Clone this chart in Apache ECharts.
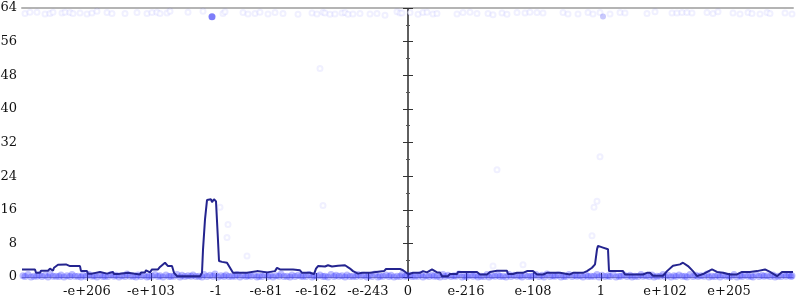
<!DOCTYPE html>
<html><head><meta charset="utf-8">
<script src="https://cdn.jsdelivr.net/npm/echarts@6/dist/echarts.min.js"></script>
<style>html,body{margin:0;padding:0;background:#fff}#c{width:800px;height:300px}</style>
</head><body><div id="c"></div>
<script>
// x positions are offsets along an ordered axis: negative panel on the left, positive on the right
const leftTickPos = [-321, -257, -192, -142, -92, -40, 0];
const leftTickLabels = ['-e+206', '-e+103', '-1', '-e-81', '-e-162', '-e-243', '0'];
const rightTickPos = [58, 125, 193, 257, 321];
const rightTickLabels = ['e-216', 'e-108', '1', 'e+102', 'e+205'];

const leftLineX = [-386,-373,-372,-368,-367,-360,-358,-355,-354,-350,-342,-340,-338,-328,-327,-321,-320,-316,-315,-308,-307,-301,-300,-295,-294,-290,-289,-280,-279,-268,-267,-263,-262,-258,-256,-250,-248,-243,-240,-236,-234,-231,-208,-206,-205,-203,-201,-199,-197,-196,-194,-192,-190,-189,-186,-181,-178,-175,-161,-160,-151,-150,-141,-140,-133,-131,-128,-123,-121,-115,-108,-106,-98,-97,-94,-92,-90,-83,-80,-76,-70,-63,-58,-55,-50,-46,-38,-36,-24,-22,-8,-5,0];
const leftLineY = [1.8,1.8,1.0,1.0,1.5,1.5,2.0,1.5,2.2,2.9,3.0,3.4,2.6,2.6,1.4,1.4,0.8,0.8,1.2,1.2,0.8,0.8,1.2,1.2,0.7,0.7,1.0,1.0,0.6,0.6,1.1,1.1,1.6,1.1,1.8,1.8,2.4,3.4,2.6,2.6,1.0,0.2,0.2,1.0,6.5,13.7,18.3,18.0,18.5,17.8,18.5,18.0,8.7,3.8,3.6,3.4,2.2,1.0,1.0,1.4,1.4,1.1,1.1,1.4,1.4,2.2,1.8,1.8,1.4,1.8,1.6,1.0,1.0,0.7,0.7,2.0,2.6,2.5,2.8,2.5,2.7,2.8,2.0,1.4,0.8,1.0,1.0,1.4,1.4,1.9,1.9,1.6,0.7];

const rightLineX = [0,5,12,15,19,24,29,32,34,40,42,49,50,69,72,79,82,89,99,100,105,109,115,119,125,129,135,139,152,154,162,165,175,179,184,187,189,190,195,200,201,215,217,235,239,242,245,255,259,265,272,275,280,285,289,295,304,309,315,322,329,334,342,349,357,362,369,374,385];
const rightLineY = [0.6,1.0,1.0,1.4,1.1,1.8,1.1,1.1,0.2,0.2,0.7,0.7,1.2,1.2,0.6,0.6,1.2,1.5,1.5,0.7,0.7,1.0,1.0,1.4,1.4,0.6,0.6,1.0,1.0,0.6,0.6,1.0,1.0,1.4,2.2,3.0,6.6,7.4,7.0,6.6,1.4,1.4,0.6,0.6,1.0,1.0,0.3,0.3,1.4,2.7,3.0,3.4,2.6,1.4,0.2,0.7,1.8,1.2,1.0,0.6,0.6,1.2,1.2,1.4,1.8,1.2,0.2,1.2,1.2];

const leftTopX = [-383,-378,-371,-363,-358,-355,-346,-343,-338,-335,-328,-321,-316,-311,-301,-296,-283,-271,-261,-256,-251,-248,-241,-238,-220,-205,-185,-183,-165,-160,-153,-148,-140,-133,-125,-110,-96,-91,-85,-83,-78,-73,-66,-63,-60,-55,-48,-38,-31,-23,-11,-8,-6];
const leftTopY = [62.7,63.0,63.0,62.6,62.7,63.0,62.8,63.0,62.9,62.7,62.8,62.6,62.8,63.2,62.9,62.7,62.7,62.9,62.7,62.9,63.0,62.7,62.8,63.2,63.0,63.2,62.7,63.1,62.9,62.6,62.7,63.0,62.6,62.9,62.7,62.5,62.8,62.6,63.0,62.8,62.5,62.6,62.8,62.9,62.5,62.6,62.7,62.6,62.7,62.3,63.1,62.8,62.8];
const rightTopX = [2,10,15,19,25,29,49,55,62,69,80,85,94,99,109,117,122,129,135,155,160,170,180,185,192,202,212,217,239,247,264,269,274,279,284,299,305,310,325,332,340,344,352,359,362,377,384];
const rightTopY = [62.9,62.5,62.9,63.0,62.6,62.7,62.6,62.9,63.0,62.7,62.7,62.4,62.8,62.5,62.9,62.8,63.0,62.9,62.8,62.9,62.6,62.6,62.9,62.6,62.9,62.6,62.9,62.8,62.7,63.1,62.8,62.8,62.9,62.9,62.8,62.9,62.7,63.1,62.8,62.6,62.9,62.7,62.6,62.9,62.7,62.8,62.6];

const leftBottomX = [-385,-380,-374,-369,-363,-358,-352,-347,-341,-336,-330,-325,-319,-314,-308,-303,-297,-292,-286,-281,-275,-270,-264,-259,-253,-248,-242,-237,-231,-226,-220,-215,-209,-204,-198,-193,-187,-182,-176,-171,-165,-160,-154,-149,-143,-138,-132,-127,-121,-116,-110,-105,-99,-94,-88,-83,-77,-72,-66,-61,-55,-50,-44,-39,-33,-28,-22,-17,-11,-6,-1];
const leftBottomY = [0.3,0.6,0.2,0.5,0.4,0.7,0.2,0.5,0.3,0.6,0.2,0.4,0.6,0.3,0.5,0.2,0.6,0.4,0.3,0.7,0.2,0.5,0.4,0.2,0.6,0.3,0.5,0.2,0.6,0.4,0.3,0.5,0.2,0.6,0.4,0.7,0.3,0.5,0.2,0.6,0.4,0.3,0.5,0.2,0.6,0.4,0.3,0.7,0.2,0.5,0.4,0.2,0.6,0.3,0.5,0.2,0.6,0.4,0.3,0.5,0.2,0.6,0.4,0.3,0.7,0.2,0.5,0.4,0.2,0.6,0.3];
const leftBottomX2 = [-383,-377,-371,-366,-360,-355,-349,-344,-338,-333,-327,-322,-316,-311,-305,-300,-294,-289,-283,-278,-272,-267,-261,-256,-250,-245,-239,-234,-228,-223,-217,-212,-206,-201,-195,-190,-184,-179,-173,-168,-162,-157,-151,-146,-140,-135,-129,-124,-118,-113,-107,-102,-96,-91,-85,-80,-74,-69,-63,-58,-52,-47,-41,-36,-30,-25,-19,-14,-8,-3];
const leftBottomY2 = [0.1,0.0,0.2,0.1,0.0,0.2,0.1,0.0,0.1,0.2,0.0,0.1,0.2,0.0,0.1,0.1,0.2,0.0,0.1,0.2,0.0,0.1,0.0,0.2,0.1,0.0,0.1,0.2,0.0,0.1,0.2,0.1,0.0,0.1,0.2,0.0,0.1,0.1,0.2,0.0,0.1,0.2,0.0,0.1,0.1,0.0,0.2,0.1,0.0,0.1,0.2,0.1,0.0,0.2,0.1,0.0,0.1,0.2,0.0,0.1,0.1,0.2,0.0,0.1,0.0,0.2,0.1,0.0,0.1,0.2];
const rightBottomX = [2,7,13,18,24,29,35,40,46,51,57,62,68,73,79,84,90,95,101,106,112,117,123,128,134,139,145,150,156,161,167,172,178,183,189,194,200,205,211,216,222,227,233,238,244,249,255,260,266,271,277,282,288,293,299,304,310,315,321,326,332,337,343,348,354,359,365,370,376,381,384];
const rightBottomY = [0.4,0.2,0.6,0.3,0.5,0.2,0.6,0.4,0.3,0.7,0.2,0.5,0.4,0.2,0.6,0.3,0.5,0.2,0.6,0.4,0.3,0.5,0.2,0.6,0.4,0.7,0.3,0.5,0.2,0.6,0.4,0.3,0.5,0.2,0.6,0.4,0.3,0.7,0.2,0.5,0.4,0.2,0.6,0.3,0.5,0.2,0.6,0.4,0.3,0.5,0.2,0.6,0.4,0.3,0.7,0.2,0.5,0.4,0.2,0.6,0.3,0.5,0.2,0.6,0.4,0.3,0.5,0.2,0.6,0.4,0.3];
const rightBottomX2 = [4,10,15,21,26,32,37,43,48,54,59,65,70,76,81,87,92,98,103,109,114,120,125,131,136,142,147,153,158,164,169,175,180,186,191,197,202,208,213,219,224,230,235,241,246,252,257,263,268,274,279,285,290,296,301,307,312,318,323,329,334,340,345,351,356,362,367,373,378,383];
const rightBottomY2 = [0.1,0.2,0.0,0.1,0.2,0.0,0.1,0.1,0.2,0.0,0.1,0.2,0.0,0.1,0.0,0.2,0.1,0.0,0.1,0.2,0.0,0.1,0.2,0.1,0.0,0.1,0.2,0.0,0.1,0.1,0.2,0.0,0.1,0.2,0.0,0.1,0.1,0.0,0.2,0.1,0.0,0.1,0.2,0.1,0.0,0.2,0.1,0.0,0.1,0.2,0.0,0.1,0.1,0.2,0.0,0.1,0.0,0.2,0.1,0.0,0.1,0.2,0.0,0.1,0.2,0.1,0.0,0.1,0.2,0.1];

const leftMidX = [-188,-180,-181,-161,-85,-88];
const leftMidY = [16.6,12.5,9.4,5.0,17.0,49.6];
const rightMidX = [186,184,85,115,189,192,89];
const rightMidY = [16.6,9.8,2.6,2.9,18.0,28.6,25.5];

const leftHotX = [-196], leftHotY = [61.9];
const rightHotX = [195], rightHotY = [62.0];

const zip = (xs, ys) => xs.map((x, i) => [x, ys[i]]);

const FONT = 'DejaVu Serif';
const lineCol = '#24248f';
const ringStyle = { color: 'rgba(40,40,255,0.09)', borderColor: 'rgba(40,40,255,0.09)' };
const bandStyle = { color: 'rgba(60,60,255,0.42)' };

function yAx(grid, pos, opts) {
  return Object.assign({
    type: 'value', gridIndex: grid, position: pos, min: 0, max: 64, interval: 8,
    splitLine: { show: false },
    axisLine: { show: true, lineStyle: { color: '#b4b4b4', width: 2 } },
    axisTick: { show: true, length: 5, lineStyle: { color: '#333' } },
    minorTick: { show: true, splitNumber: 2, length: 2, lineStyle: { color: '#555' } },
    axisLabel: { show: false }
  }, opts);
}

function xAx(grid, min, max, ticks, labels, show) {
  return {
    type: 'value', gridIndex: grid, position: 'bottom', min: min, max: max,
    splitLine: { show: false },
    axisLine: { show: true, onZero: false, lineStyle: { color: '#9a9aa0', width: 1 } },
    axisTick: { show: true, length: 4, customValues: ticks, lineStyle: { color: '#222' } },
    axisLabel: {
      show: show, customValues: ticks, margin: 8, color: '#111',
      fontFamily: FONT, fontSize: 13,
      formatter: v => labels[ticks.indexOf(v)]
    }
  };
}

const chart = echarts.init(document.getElementById('c'), null, { renderer: 'canvas' });

const xAxes = [
  xAx(0, -386, 0, leftTickPos, leftTickLabels, true),
  xAx(1, 0, 385, rightTickPos, rightTickLabels, true),
  Object.assign(xAx(0, -386, 0, leftTickPos, leftTickLabels, false), { axisLine: { show: false }, axisTick: { show: true, inside: true, length: 4, customValues: leftTickPos, lineStyle: { color: '#222' } } }),
  Object.assign(xAx(1, 0, 385, rightTickPos, rightTickLabels, false), { axisLine: { show: false }, axisTick: { show: true, inside: true, length: 4, customValues: rightTickPos, lineStyle: { color: '#222' } } }),
  { type: 'value', gridIndex: 0, position: 'top', min: -386, max: 0, splitLine: { show: false }, axisTick: { show: false }, axisLabel: { show: false }, axisLine: { show: true, onZero: false, lineStyle: { color: '#b4b4b4', width: 2 } } },
  { type: 'value', gridIndex: 1, position: 'top', min: 0, max: 385, splitLine: { show: false }, axisTick: { show: false }, axisLabel: { show: false }, axisLine: { show: true, onZero: false, lineStyle: { color: '#b4b4b4', width: 2 } } }
];

const yAxes = [
  yAx(0, 'left', { axisLabel: { show: true, margin: 5, color: '#111', fontFamily: FONT, fontSize: 13 } }),
  yAx(1, 'right', {}),
  yAx(0, 'left', { axisLine: { show: false }, axisTick: { show: true, inside: true, length: 5, lineStyle: { color: '#333' } }, minorTick: { show: true, splitNumber: 2, length: 2, lineStyle: { color: '#555' } } }),
  yAx(1, 'right', { axisLine: { show: false }, axisTick: { show: true, inside: true, length: 5, lineStyle: { color: '#333' } }, minorTick: { show: true, splitNumber: 2, length: 2, lineStyle: { color: '#555' } } }),
  yAx(0, 'right', { axisLine: { show: true, lineStyle: { color: '#5a5a5a', width: 1.5 } } }),
  yAx(1, 'left', { axisLine: { show: true, lineStyle: { color: '#5a5a5a', width: 1.5 } } })
];

function scat(xi, yi, data, size, style, sym, z) {
  return { type: 'scatter', xAxisIndex: xi, yAxisIndex: yi, data: data, symbol: sym || 'emptyCircle',
    symbolSize: size, itemStyle: style, silent: true, z: z || 2, animation: false };
}

chart.setOption({
  animation: false,
  grid: [
    { left: 22, right: 392, top: 8, bottom: 23, outerBoundsMode: 'none', containLabel: false },
    { left: 408, right: 7, top: 8, bottom: 23, outerBoundsMode: 'none', containLabel: false }
  ],
  xAxis: xAxes,
  yAxis: yAxes,
  series: [
    scat(0, 0, zip(leftTopX, leftTopY), 5, ringStyle),
    scat(1, 1, zip(rightTopX, rightTopY), 5, ringStyle),
    scat(0, 0, zip(leftMidX, leftMidY), 5, ringStyle),
    scat(1, 1, zip(rightMidX, rightMidY), 5, ringStyle),
    scat(0, 0, zip(leftBottomX, leftBottomY), 7, bandStyle, 'circle'),
    scat(0, 0, zip(leftBottomX2, leftBottomY2), 7, bandStyle, 'circle'),
    scat(1, 1, zip(rightBottomX, rightBottomY), 7, bandStyle, 'circle'),
    scat(1, 1, zip(rightBottomX2, rightBottomY2), 7, bandStyle, 'circle'),
    scat(0, 0, zip(leftHotX, leftHotY), 7, { color: 'rgba(40,40,245,0.75)' }, 'circle', 3),
    scat(1, 1, zip(rightHotX, rightHotY), 6, { color: 'rgba(60,60,245,0.35)' }, 'circle', 3),
    { type: 'line', xAxisIndex: 0, yAxisIndex: 0, data: zip(leftLineX, leftLineY), showSymbol: false, symbol: 'none', lineStyle: { color: lineCol, width: 2 }, z: 5, silent: true },
    { type: 'line', xAxisIndex: 1, yAxisIndex: 1, data: zip(rightLineX, rightLineY), showSymbol: false, symbol: 'none', lineStyle: { color: lineCol, width: 2 }, z: 5, silent: true }
  ]
});
</script>
</body></html>
